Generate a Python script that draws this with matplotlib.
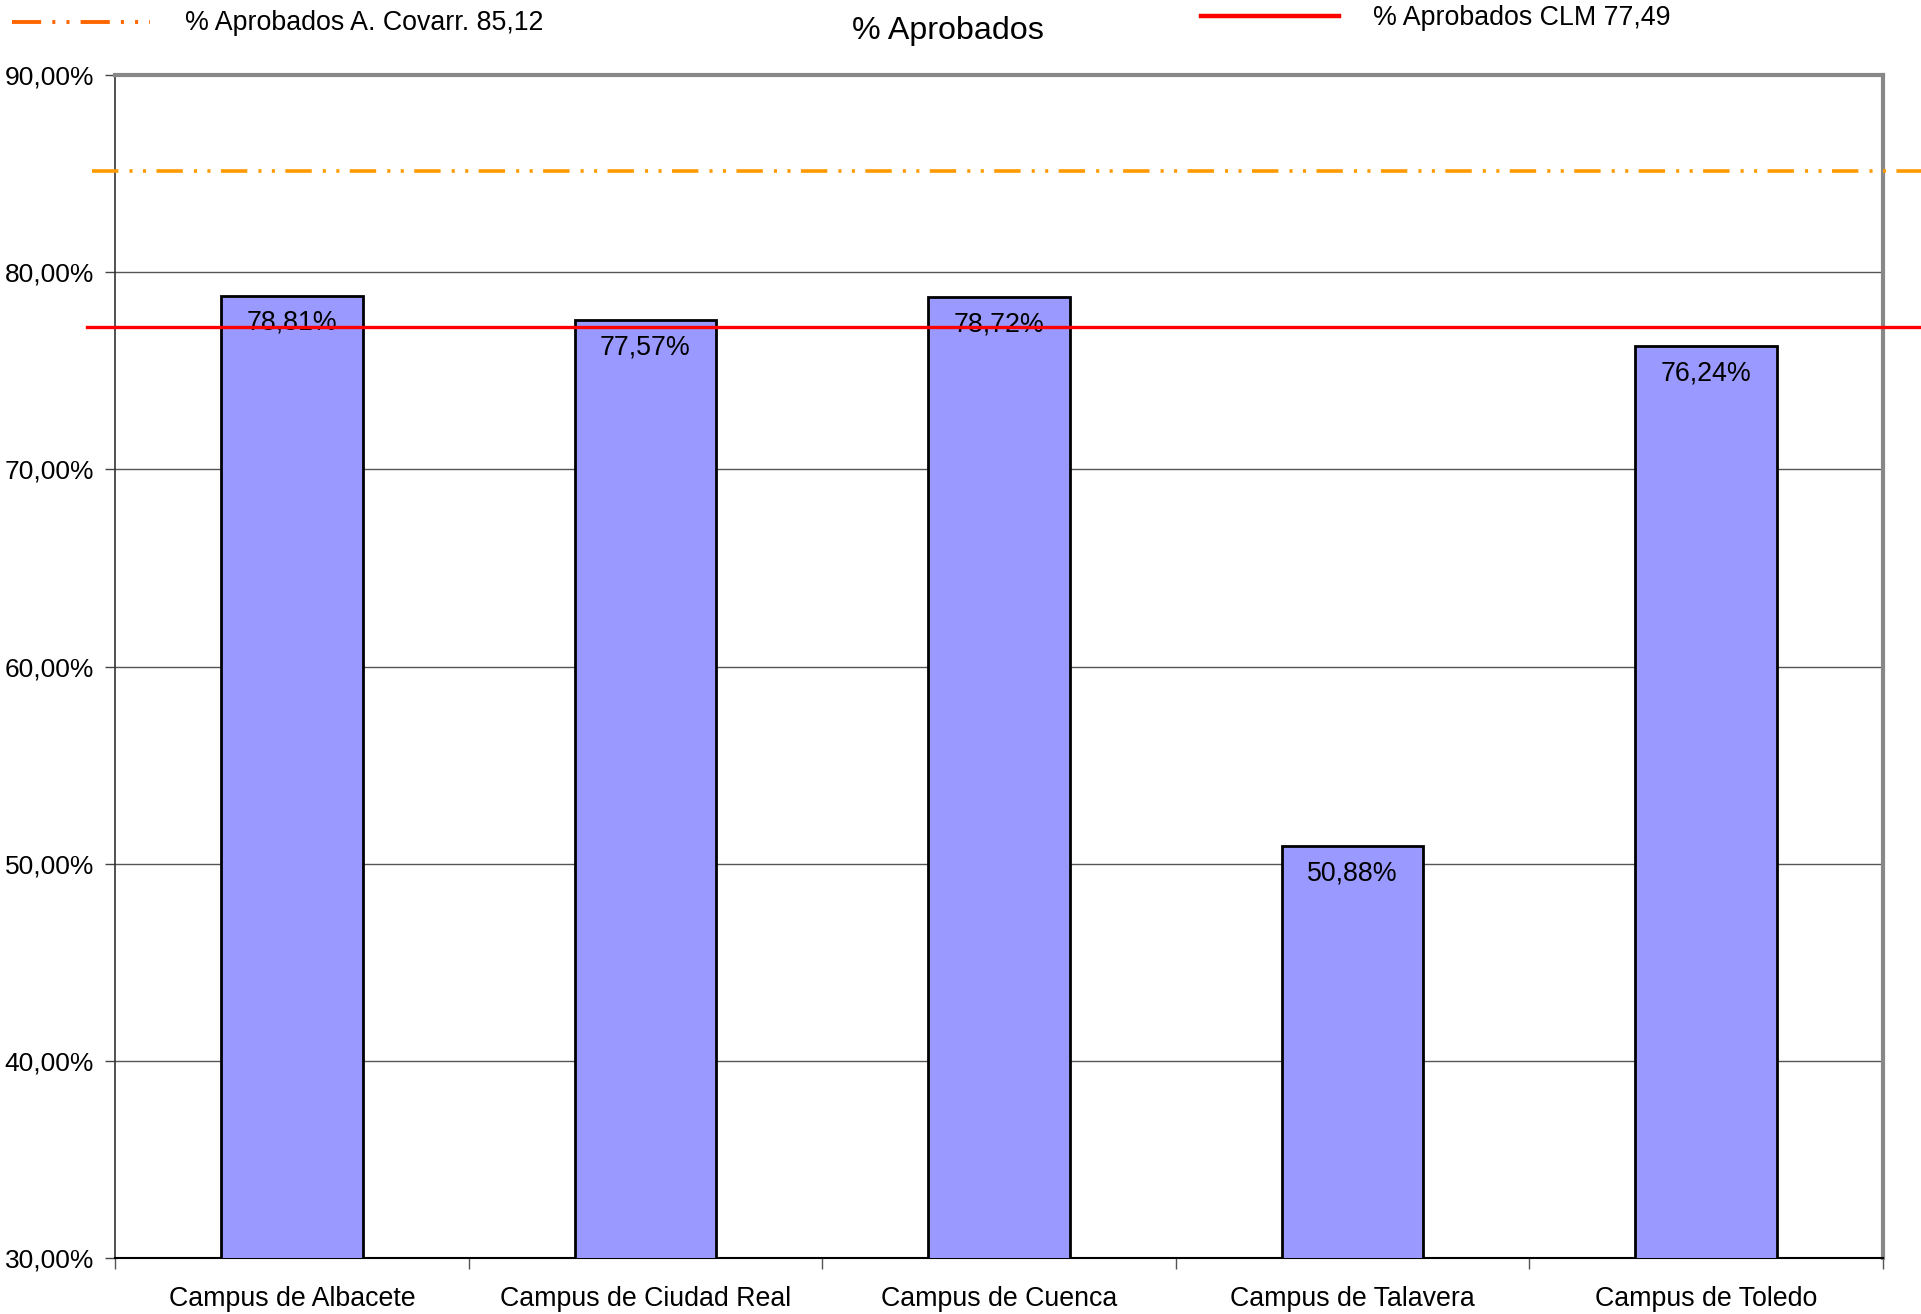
import matplotlib
matplotlib.use("Agg")
import matplotlib.pyplot as plt
from matplotlib.lines import Line2D

plt.rcParams['font.family'] = ['Liberation Sans', 'DejaVu Sans']
plt.rcParams['lines.scale_dashes'] = False

categories = ["Campus de Albacete", "Campus de Ciudad Real", "Campus de Cuenca",
              "Campus de Talavera", "Campus de Toledo"]
values = [78.81, 77.57, 78.72, 50.88, 76.24]
covarr_value = 85.12
clm_value = 77.49
clm_line_drawn = 77.2   # where the red reference line appears in the picture
yticks = [30, 40, 50, 60, 70, 80, 90]

def fmt(v):
    return f"{v:.2f}".replace(".", ",") + "%"

fig = plt.figure(figsize=(19.21, 13.14), dpi=100)
ax = fig.add_axes([0.0599, 0.0426, 0.9203, 0.9003])

x = list(range(len(categories)))
ax.bar(x, values, width=0.4, color="#9999FF", edgecolor="black", linewidth=2.0, zorder=3)
for xi, v in zip(x, values):
    ax.text(xi, v - 0.72, fmt(v), ha="center", va="top", fontsize=19.3, zorder=5)

ax.set_xlim(-0.5, len(categories) - 0.5)
ax.set_ylim(30, 90)
ax.set_yticks(yticks)
ax.set_yticklabels([fmt(t) for t in yticks], fontsize=19)
ax.set_xticks(x)
ax.set_xticklabels(categories, fontsize=19.3)
ax.tick_params(axis='x', length=0, pad=20)
ax.set_xticks([i + 0.5 for i in range(-1, len(categories))], minor=True)
ax.tick_params(axis='x', which='minor', length=8, width=1, color='#555555', direction='out')
ax.tick_params(axis='y', length=7, width=1, color='#444444', pad=8)
ax.yaxis.grid(True, color="#555555", linewidth=1.0, zorder=0)
ax.set_axisbelow(True)

for s in ['top', 'right']:
    ax.spines[s].set_color('#888888')
    ax.spines[s].set_linewidth(3)
ax.spines['left'].set_color('#333333')
ax.spines['left'].set_linewidth(1.2)
ax.spines['bottom'].set_color('#000000')
ax.spines['bottom'].set_linewidth(1.5)

trans = ax.get_yaxis_transform()
ax.plot([-0.013, 1.1], [covarr_value, covarr_value], transform=trans, clip_on=False,
        color="#FF9900", linewidth=2.6,
        linestyle=(0, (19, 8, 2.2, 7.5, 2.2, 7.5)), zorder=6)
ax.plot([-0.016, 1.1], [clm_line_drawn, clm_line_drawn], transform=trans, clip_on=False,
        color="#FF0000", linewidth=2.4, zorder=6)

# title and legend-like annotations
fig.text(0.4935, 0.9765, "% Aprobados", ha="center", va="center", fontsize=23.2)
fig.add_artist(Line2D([0.0065, 0.078], [0.9835, 0.9835], color="#FF6600", linewidth=2.8,
                      linestyle=(0, (21, 8, 2.2, 8, 2.2, 8))))
fig.text(0.0965, 0.9825, "% Aprobados A. Covarr. " + f"{covarr_value:.2f}".replace(".", ","),
         ha="left", va="center", fontsize=19.3)
fig.add_artist(Line2D([0.625, 0.697], [0.9875, 0.9875], color="#FF0000", linewidth=3.2))
fig.text(0.7145, 0.9865, "% Aprobados CLM " + f"{clm_value:.2f}".replace(".", ","),
         ha="left", va="center", fontsize=19.3)

fig.savefig("out.png", dpi=100)
